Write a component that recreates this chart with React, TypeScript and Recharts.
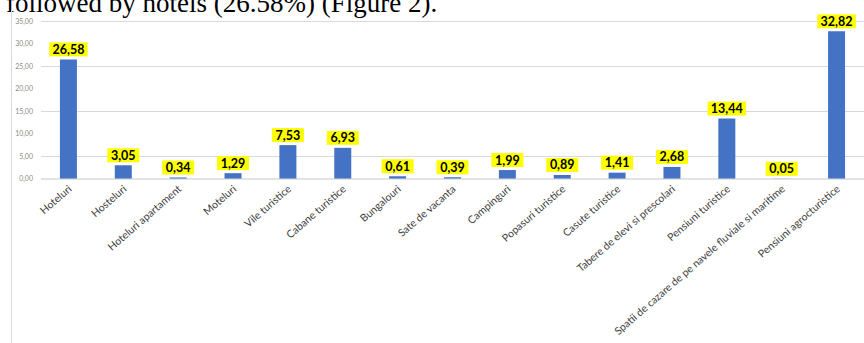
import { BarChart, Bar, XAxis, YAxis, CartesianGrid, LabelList } from 'recharts'

const categories = [
  'Hoteluri',
  'Hosteluri',
  'Hoteluri apartament',
  'Moteluri',
  'Vile turistice',
  'Cabane turistice',
  'Bungalouri',
  'Sate de vacanta',
  'Campinguri',
  'Popasuri turistice',
  'Casute turistice',
  'Tabere de elevi si prescolari',
  'Pensiuni turistice',
  'Spatii de cazare de pe navele fluviale si maritime',
  'Pensiuni agrocturistice',
]
const shares = [26.58, 3.05, 0.34, 1.29, 7.53, 6.93, 0.61, 0.39, 1.99, 0.89, 1.41, 2.68, 13.44, 0.05, 32.82]
const yTicks = [0, 5, 10, 15, 20, 25, 30, 35]

const data = categories.map((name, i) => ({ name, value: shares[i] }))

const fmt = (v: number) => v.toFixed(2).replace('.', ',')

const FONT = 'Lato, "Open Sans", sans-serif'

function XTick({ x, y, payload }: any) {
  const ax = x + 4
  const ay = y + 3
  return (
    <text
      x={ax}
      y={ay}
      textAnchor="end"
      fontSize={10.5}
      fontFamily={FONT}
      fill="#404040"
      transform={`rotate(-41, ${ax}, ${ay})`}
    >
      {payload.value}
    </text>
  )
}

function ValueLabel({ x, y, width, value }: any) {
  const text = fmt(Number(value))
  const w = text.length * 6.5 + 6
  const h = 14
  const cx = x + width / 2
  const top = y - 3 - h
  return (
    <g>
      <rect x={cx - w / 2} y={top} width={w} height={h} fill="#ffff00" />
      <text
        x={cx}
        y={top + h / 2 + 4.5}
        textAnchor="middle"
        fontSize={12.5}
        fontWeight="bold"
        fontFamily={FONT}
        fill="#000"
      >
        {text}
      </text>
    </g>
  )
}

export default function App() {
  return (
    <div
      style={{
        position: 'fixed', left: 0, top: 0, width: 864, height: 343,
        overflow: 'hidden', background: '#fff',
      }}
    >
      <div
        style={{
          position: 'absolute', left: 6, top: -10.5, whiteSpace: 'nowrap',
          fontFamily: '"Liberation Serif", serif', fontSize: 27, lineHeight: '27px', color: '#000',
        }}
      >
        followed by hotels (26.58%) (Figure 2).
      </div>
      <div
        style={{
          position: 'absolute', left: 11, top: 10, width: 1, height: 333, background: '#d9d9d9',
        }}
      />
      <div style={{ position: 'absolute', left: 0, top: 0 }}>
        <BarChart
          width={864}
          height={343}
          data={data}
          margin={{ top: 21.5, right: 0, left: 0, bottom: 0 }}
          barCategoryGap="34.5%"
        >
          <CartesianGrid vertical={false} stroke="#d9d9d9" />
          <XAxis
            dataKey="name"
            interval={0}
            height={164}
            tick={<XTick />}
            tickLine={false}
            axisLine={{ stroke: '#d9d9d9' }}
          />
          <YAxis
            width={41}
            domain={[0, 35]}
            ticks={yTicks}
            tickFormatter={fmt}
            tick={{ fontSize: 7, fill: '#8c8c8c', fontFamily: FONT }}
            axisLine={false}
            tickLine={false}
          />
          <Bar dataKey="value" fill="#4472c4" isAnimationActive={false}>
            <LabelList dataKey="value" content={<ValueLabel />} />
          </Bar>
        </BarChart>
      </div>
    </div>
  )
}
